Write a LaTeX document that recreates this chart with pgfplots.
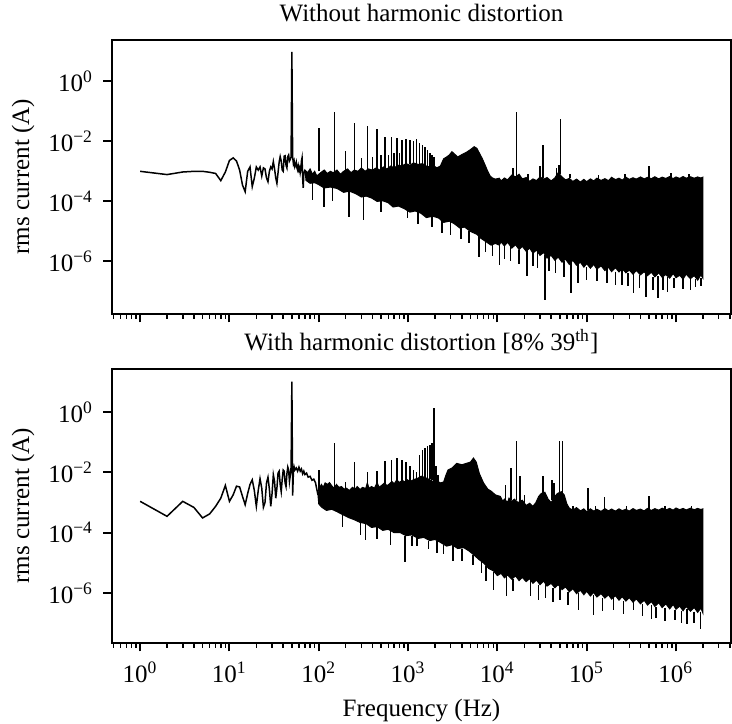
\documentclass[border=0pt]{standalone}
\usepackage{fontspec}
\setmainfont{Liberation Serif}
\usepackage{pgfplots}
\pgfplotsset{compat=1.18}

\pgfplotsset{
  every axis/.append style={
    scale only axis, width=247.6pt, height=109.4pt,
    tick pos=left, tick align=outside,
    major tick length=3.5pt, minor tick length=2pt,
    every major tick/.style={black, line width=0.8pt},
    every minor tick/.style={black, line width=0.6pt},
    axis line style={line width=0.8pt},
    yticklabel style={xshift=-0.5pt},
    ylabel style={at={(axis description cs:-0.134,0.5)}, anchor=base},
    title style={at={(axis description cs:0.5,1)}, anchor=base, yshift=1.5pt},
  },
}

\begin{document}
\begin{tikzpicture}
\path[use as bounding box] (-44.8pt,16pt) rectangle (248pt,-273.6pt);

% ---------------- without harmonic distortion ----------------
\begin{axis}[at={(0,0)}, anchor=north west,
  xmode=log, ymode=log,
  xmin=0.484, xmax=4.13e6, ymin=1.86e-8, ymax=23.4,
  xtick={1,10,100,1000,1e4,1e5,1e6},
  minor xtick={0.5,0.6,0.7,0.8,0.9,2,3,4,5,6,7,8,9,20,30,40,50,60,70,80,90,
    200,300,400,500,600,700,800,900,2000,3000,4000,5000,6000,7000,8000,9000,
    2e4,3e4,4e4,5e4,6e4,7e4,8e4,9e4,2e5,3e5,4e5,5e5,6e5,7e5,8e5,9e5,2e6,3e6,4e6},
  xticklabels={},
  ytick={1e-6,1e-4,1e-2,1},
  yticklabels={10\textsuperscript{\textminus6},10\textsuperscript{\textminus4},
    10\textsuperscript{\textminus2},10\textsuperscript{0}},
  yminorticks=false,
  unbounded coords=jump,
  ylabel={rms current (A)},
  title={Without harmonic distortion}]

% low-frequency part
\addplot[black, line width=0.6pt] coordinates {
(1,1.0e-3)(2,7.8e-4)(3,9.5e-4)(4,1.0e-3)(5,1.0e-3)(6,9.3e-4)(7,8.5e-4)(8,4.9e-4)
(9,9.5e-4)(10,2.3e-3)(11,2.8e-3)(12,2.2e-3)(13,1.1e-3)(14,3.5e-4)(15,2.1e-4)(16,1.0e-3)
(17,1.4e-3)(18,3.1e-4)(19,6.0e-4)(20,1.4e-3)(21,1.1e-3)(22,1.4e-3)(23,7.0e-4)(24,1.3e-3)
(25,1.2e-3)(26,6.0e-4)(27,4.5e-4)(28,1.0e-3)(29,1.4e-3)(30,1.2e-3)(31,2.1e-3)(32,1.2e-3)
(33,6.0e-4)(34,4.0e-4)(35,9.0e-4)(36,2.0e-3)(37,3.1e-3)(38,2.2e-3)(39,1.1e-3)(40,1.0e-3)
(41,3.2e-3)(42,3.3e-3)(43,1.6e-3)(44,1.3e-3)(45,3.1e-3)(46,3.5e-3)(47,2.2e-3)(48,2.5e-3)
(49,3.0e-3)(50,9.4)(51,3.0e-3)(52,1.8e-3)(53,2.2e-3)(54,1.4e-3)(55,1.6e-3)(56,2.0e-3)
(57,1.3e-3)(58,1.1e-3)(59,1.5e-3)(60,1.1e-3)(61,1.3e-3)(62,9.0e-4)(63,1.2e-3)(64,2.2e-3)
(65,2.8e-3)(66,6.0e-4)(67,2.8e-4)(68,8.0e-4)(69,1.0e-3)(70,1.1e-3)
};

% dense band: upper edge left to right, lower edge right to left
\addplot[black, fill=black, line width=0.4pt] coordinates {
(70,1.1e-3)(75,9e-4)(80,1.2e-3)(85,8e-4)(90,1.0e-3)(95,7e-4)(105,9e-4)(115,1.1e-3)
(125,8.5e-4)(135,1.0e-3)(145,9e-4)(160,1.1e-3)(175,8e-4)(190,1.0e-3)(210,1.2e-3)
(230,9e-4)(250,1.1e-3)(275,1.0e-3)(300,1.3e-3)(330,1.0e-3)(360,1.2e-3)(400,1.1e-3)
(440,1.3e-3)(480,1.1e-3)(530,1.4e-3)(580,1.2e-3)(640,1.5e-3)(700,1.3e-3)(770,1.6e-3)
(850,1.5e-3)(950,1.8e-3)(1050,1.6e-3)(1150,1.9e-3)(1300,1.7e-3)(1450,1.8e-3)
(1600,1.5e-3)(1750,1.4e-3)(1900,1.6e-3)(2100,1.3e-3)(2300,1.5e-3)(2500,2.6e-3)
(2700,3.0e-3)(2900,3.5e-3)(3100,4.5e-3)(3300,3.8e-3)(3600,3.0e-3)(4000,3.6e-3)
(4500,4.3e-3)(5000,5.3e-3)(5500,6.6e-3)(5900,5.8e-3)(6300,4.0e-3)(6800,2.6e-3)
(7300,1.6e-3)(7800,1.0e-3)(8300,7e-4)(8800,6e-4)(9500,5.5e-4)
(1.05e4,5.9e-4)(1.1e4,4.8e-4)(1.2e4,6.0e-4)(1.3e4,5.2e-4)(1.45e4,7.5e-4)(1.6e4,6.5e-4)
(1.75e4,8.0e-4)(1.9e4,5.6e-4)(2.1e4,6.2e-4)(2.3e4,4.6e-4)(2.5e4,5.6e-4)(2.75e4,4.9e-4)
(3.0e4,6.5e-4)(3.3e4,5.5e-4)(3.6e4,6.2e-4)(4.0e4,4.8e-4)(4.4e4,6.0e-4)(4.8e4,9.0e-4)
(5.3e4,6.5e-4)(5.8e4,5.2e-4)(6.4e4,5.8e-4)(7.0e4,4.6e-4)(7.7e4,5.5e-4)(8.5e4,4.4e-4)
(9.3e4,5.4e-4)(1.0e5,4.5e-4)(1.1e5,5.6e-4)(1.2e5,4.8e-4)(1.3e5,5.9e-4)(1.45e5,5.0e-4)
(1.6e5,5.7e-4)(1.75e5,4.9e-4)(1.9e5,6.3e-4)(2.1e5,5.3e-4)(2.3e5,5.9e-4)(2.5e5,5.1e-4)
(2.75e5,6.4e-4)(3.0e5,5.4e-4)(3.3e5,6.1e-4)(3.6e5,5.5e-4)(4.0e5,6.5e-4)(4.4e5,5.6e-4)
(4.8e5,6.3e-4)(5.3e5,5.7e-4)(5.8e5,6.6e-4)(6.4e5,5.6e-4)(7.0e5,6.4e-4)(7.7e5,5.8e-4)
(8.5e5,6.7e-4)(9.3e5,5.7e-4)(1.0e6,6.5e-4)(1.1e6,5.8e-4)(1.2e6,6.7e-4)(1.3e6,5.9e-4)
(1.45e6,6.6e-4)(1.6e6,5.9e-4)(1.75e6,6.5e-4)(1.9e6,6.0e-4)(2.0e6,6.4e-4)
(2.0e6,2.8e-7)(1.9e6,3.6e-7)(1.75e6,2.4e-7)(1.6e6,3.4e-7)(1.45e6,2.7e-7)(1.3e6,3.8e-7)
(1.2e6,2.6e-7)(1.1e6,3.5e-7)(1.0e6,2.9e-7)(9.3e5,4.0e-7)(8.5e5,2.8e-7)(7.7e5,3.7e-7)
(7.0e5,3.0e-7)(6.4e5,4.2e-7)(5.8e5,3.1e-7)(5.3e5,4.4e-7)(4.8e5,3.4e-7)(4.4e5,4.6e-7)
(4.0e5,3.6e-7)(3.6e5,5.0e-7)(3.3e5,3.8e-7)(3.0e5,5.2e-7)(2.75e5,4.2e-7)(2.5e5,5.8e-7)
(2.3e5,4.5e-7)(2.1e5,6.2e-7)(1.9e5,4.6e-7)(1.75e5,6.5e-7)(1.6e5,5.0e-7)(1.45e5,7.2e-7)
(1.3e5,5.6e-7)(1.2e5,8.0e-7)(1.1e5,6.0e-7)(1.0e5,8.5e-7)(9.3e4,6.5e-7)(8.5e4,9.5e-7)
(7.7e4,7.5e-7)(7.0e4,1.1e-6)(6.4e4,8.0e-7)(5.8e4,1.2e-6)(5.3e4,9.5e-7)(4.8e4,1.4e-6)
(4.4e4,1.1e-6)(4.0e4,1.6e-6)(3.6e4,1.3e-6)(3.3e4,2.0e-6)(3.0e4,1.6e-6)(2.75e4,2.4e-6)
(2.5e4,1.9e-6)(2.3e4,2.8e-6)(2.1e4,2.2e-6)(1.9e4,3.2e-6)(1.75e4,2.5e-6)(1.6e4,3.6e-6)
(1.45e4,2.8e-6)(1.3e4,4.4e-6)(1.2e4,3.3e-6)(1.1e4,4.5e-6)(1.05e4,3.5e-6)
(9.5e3,4e-6)(8.5e3,3.5e-6)(7.5e3,4.5e-6)(6.5e3,6e-6)(5.9e3,8e-6)
(5e3,1.0e-5)(4.3e3,1.4e-5)(3.8e3,1.3e-5)(3.3e3,1.8e-5)(2.9e3,2.2e-5)(2.5e3,2.0e-5)
(2.2e3,2.8e-5)(1.9e3,3.2e-5)(1.6e3,2.9e-5)(1.4e3,4e-5)(1.2e3,4.8e-5)(1.05e3,4.4e-5)
(900,5.8e-5)(780,7e-5)(680,6.5e-5)(600,9e-5)(520,1.05e-4)(450,1.0e-4)(390,1.3e-4)
(340,1.5e-4)(300,1.4e-4)(260,1.8e-4)(220,2.2e-4)(190,2.0e-4)(160,2.7e-4)(135,3.0e-4)
(115,2.8e-4)(100,3.6e-4)(90,4.2e-4)(80,4.0e-4)(72,5e-4)
} -- cycle;

% harmonic spikes and deep notches
\addplot[black, line width=0.6pt] coordinates {
(100,1.0e-3)(100,2.8e-2)(100,nan) (150,9e-4)(150,9.3e-2)(150,nan)
(200,1.1e-3)(200,4.9e-3)(200,nan) (250,1.1e-3)(250,4.1e-2)(250,nan)
(300,1.2e-3)(300,2.8e-3)(300,nan) (350,1.1e-3)(350,3.2e-2)(350,nan)
(400,1.1e-3)(400,3.0e-3)(400,nan) (450,1.2e-3)(450,2.5e-2)(450,nan)
(500,1.1e-3)(500,3.5e-3)(500,nan) (550,1.3e-3)(550,1.4e-2)(550,nan)
(600,1.3e-3)(600,3.5e-3)(600,nan) (650,1.4e-3)(650,1.4e-2)(650,nan)
(700,1.4e-3)(700,4e-3)(700,nan) (750,1.5e-3)(750,1.3e-2)(750,nan)
(800,1.5e-3)(800,4e-3)(800,nan) (850,1.5e-3)(850,1.1e-2)(850,nan)
(950,1.7e-3)(950,1.2e-2)(950,nan) (1050,1.7e-3)(1050,1.1e-2)(1050,nan)
(1150,1.8e-3)(1150,1.0e-2)(1150,nan) (1250,1.7e-3)(1250,1.2e-2)(1250,nan)
(1350,1.7e-3)(1350,8.9e-3)(1350,nan) (1450,1.8e-3)(1450,7.4e-3)(1450,nan)
(1550,1.6e-3)(1550,6.6e-3)(1550,nan) (1650,1.5e-3)(1650,5.1e-3)(1650,nan)
(1750,1.4e-3)(1750,4.0e-3)(1750,nan) (1850,1.5e-3)(1850,3.5e-3)(1850,nan)
(1950,1.5e-3)(1950,3.1e-3)(1950,nan)
(1.5e4,7e-4)(1.5e4,1.3e-3)(1.5e4,nan) (1.63e4,7e-4)(1.63e4,9.5e-2)(1.63e4,nan)
(2.2e4,5.2e-4)(2.2e4,8e-4)(2.2e4,nan)
(3.0e4,6.5e-4)(3.0e4,1.5e-3)(3.0e4,nan) (3.24e4,6e-4)(3.24e4,7.4e-3)(3.24e4,nan)
(4.6e4,6e-4)(4.6e4,1.3e-3)(4.6e4,nan) (4.9e4,8e-4)(4.9e4,1.6e-3)(4.9e4,nan)
(5.1e4,8e-4)(5.1e4,5.7e-2)(5.1e4,nan) (6.5e4,5.8e-4)(6.5e4,8e-4)(6.5e4,nan)
(1.35e5,5.5e-4)(1.35e5,7.5e-4)(1.35e5,nan) (2.7e5,6e-4)(2.7e5,8e-4)(2.7e5,nan)
(5e5,6e-4)(5e5,1.5e-3)(5e5,nan) (8.8e5,6e-4)(8.8e5,8.5e-4)(8.8e5,nan)
(1.4e6,6.2e-4)(1.4e6,8e-4)(1.4e6,nan)
(85,4.2e-4)(85,1.1e-4)(85,nan) (114,2.8e-4)(114,6.6e-5)(114,nan)
(143,3e-4)(143,1e-4)(143,nan) (217,2.2e-4)(217,3.1e-5)(217,nan)
(315,1.4e-4)(315,2.4e-5)(315,nan) (500,1.0e-4)(500,4.5e-5)(500,nan)
(980,5.8e-5)(980,2.8e-5)(980,nan) (1300,4.5e-5)(1300,1.8e-5)(1300,nan)
(1850,3.2e-5)(1850,1.4e-5)(1850,nan) (2400,2.2e-5)(2400,9e-6)(2400,nan)
(3000,2.2e-5)(3000,7.6e-6)(3000,nan) (3900,1.3e-5)(3900,5.4e-6)(3900,nan)
(4800,1.0e-5)(4800,4e-6)(4800,nan)
(6200,8e-6)(6200,1.45e-6)(6200,nan) (7400,4.5e-6)(7400,2e-6)(7400,nan)
(8800,3.5e-6)(8800,1.5e-6)(8800,nan)
(1.05e4,4e-6)(1.05e4,7.7e-7)(1.05e4,nan) (1.2e4,3.3e-6)(1.2e4,1.2e-6)(1.2e4,nan)
(1.4e4,3.6e-6)(1.4e4,1e-6)(1.4e4,nan) (1.75e4,2.5e-6)(1.75e4,8e-7)(1.75e4,nan)
(2.14e4,3e-6)(2.14e4,3.2e-7)(2.14e4,nan) (2.5e4,1.9e-6)(2.5e4,7e-7)(2.5e4,nan)
(2.8e4,2e-6)(2.8e4,6e-7)(2.8e4,nan)
(3.4e4,1.7e-6)(3.4e4,5.3e-8)(3.4e4,nan) (3.8e4,1.4e-6)(3.8e4,5e-7)(3.8e4,nan)
(4.5e4,1.4e-6)(4.5e4,4e-7)(4.5e4,nan) (5.6e4,1.0e-6)(5.6e4,3e-7)(5.6e4,nan)
(6.7e4,1e-6)(6.7e4,8.9e-8)(6.7e4,nan) (8e4,8e-7)(8e4,2e-7)(8e4,nan)
(1.0e5,6.5e-7)(1.0e5,2.5e-7)(1.0e5,nan) (1.3e5,5.6e-7)(1.3e5,2.2e-7)(1.3e5,nan)
(1.68e5,6.5e-7)(1.68e5,1.9e-7)(1.68e5,nan) (2.1e5,4.6e-7)(2.1e5,1.6e-7)(2.1e5,nan)
(2.5e5,5.5e-7)(2.5e5,1.7e-7)(2.5e5,nan) (2.9e5,4.2e-7)(2.9e5,1.5e-7)(2.9e5,nan)
(3.34e5,4.8e-7)(3.34e5,8.9e-8)(3.34e5,nan) (3.9e5,3.6e-7)(3.9e5,1.3e-7)(3.9e5,nan)
(4.6e5,4e-7)(4.6e5,6.8e-8)(4.6e5,nan) (5.5e5,3.1e-7)(5.5e5,1.1e-7)(5.5e5,nan)
(6.3e5,3.2e-7)(6.3e5,6e-8)(6.3e5,nan) (7.2e5,3e-7)(7.2e5,1.1e-7)(7.2e5,nan)
(8e5,3e-7)(8e5,1e-7)(8e5,nan) (9.5e5,2.9e-7)(9.5e5,1.3e-7)(9.5e5,nan)
(1.2e6,2.9e-7)(1.2e6,1.2e-7)(1.2e6,nan) (1.45e6,2.7e-7)(1.45e6,1.1e-7)(1.45e6,nan)
(1.65e6,2.6e-7)(1.65e6,1.4e-7)(1.65e6,nan) (1.9e6,2.8e-7)(1.9e6,1.5e-7)
};
\end{axis}

% ---------------- with harmonic distortion ----------------
\begin{axis}[at={(0,-131.6pt)}, anchor=north west,
  xmode=log, ymode=log,
  xmin=0.484, xmax=4.13e6, ymin=2.29e-8, ymax=26.9,
  xtick={1,10,100,1000,1e4,1e5,1e6},
  minor xtick={0.5,0.6,0.7,0.8,0.9,2,3,4,5,6,7,8,9,20,30,40,50,60,70,80,90,
    200,300,400,500,600,700,800,900,2000,3000,4000,5000,6000,7000,8000,9000,
    2e4,3e4,4e4,5e4,6e4,7e4,8e4,9e4,2e5,3e5,4e5,5e5,6e5,7e5,8e5,9e5,2e6,3e6,4e6},
  xticklabels={10\textsuperscript{0},10\textsuperscript{1},10\textsuperscript{2},
    10\textsuperscript{3},10\textsuperscript{4},10\textsuperscript{5},10\textsuperscript{6}},
  xticklabel style={anchor=base, yshift=-12.5pt},
  ytick={1e-6,1e-4,1e-2,1},
  yticklabels={10\textsuperscript{\textminus6},10\textsuperscript{\textminus4},
    10\textsuperscript{\textminus2},10\textsuperscript{0}},
  yminorticks=false,
  unbounded coords=jump,
  ylabel={rms current (A)},
  xlabel={Frequency (Hz)},
  xlabel style={at={(axis description cs:0.5,-0.2697)}, anchor=base},
  title={With harmonic distortion [8\% 39\textsuperscript{th}]}]

\addplot[black, line width=0.6pt] coordinates {
(1,1.1e-3)(2,3.5e-4)(3,1.1e-3)(4,6.9e-4)(5,3.1e-4)(6,4.2e-4)(7,7.5e-4)(8,1.4e-3)
(9,3.7e-3)(10,1.1e-3)(11,1.8e-3)(12,3.5e-3)(13,3.3e-3)(14,1.6e-3)(15,8.5e-4)(16,2.0e-3)
(17,4.0e-3)(18,5.7e-3)(19,2.5e-3)(20,7.5e-4)(21,2.5e-3)(22,6.2e-3)(23,3.0e-3)(24,7.0e-4)
(25,1.0e-3)(26,4.5e-3)(27,6.9e-3)(28,2.8e-3)(29,7.5e-4)(30,2.0e-3)(31,8.4e-3)(32,5.0e-3)
(33,1.4e-3)(34,3.0e-3)(35,9.5e-3)(36,1.1e-2)(37,4.0e-3)(38,2.3e-3)(39,6.0e-3)(40,1.2e-2)
(41,1.1e-2)(42,4.5e-3)(43,3.4e-3)(44,9.0e-3)(45,1.5e-2)(46,1.2e-2)(47,5.0e-3)(48,8.0e-3)
(49,1.5e-2)(50,10.3)(51,1.7e-3)(52,1.0e-2)(53,1.5e-2)(54,1.2e-2)(56,1.4e-2)(58,1.1e-2)
(60,1.5e-2)(62,1.1e-2)(64,1.3e-2)(66,9.0e-3)(68,1.1e-2)(70,8.5e-3)(73,9.5e-3)(76,7.0e-3)
(80,7.4e-3)(84,5.5e-3)(88,6.0e-3)(92,4.5e-3)(95,2.8e-3)(98,1.8e-3)
};

\addplot[black, fill=black, line width=0.4pt] coordinates {
(98,1.8e-3)(102,3.0e-3)(107,4.0e-3)(112,3.2e-3)(118,4.5e-3)(125,4.0e-3)(132,4.6e-3)
(140,3.6e-3)(148,3.0e-3)(158,4.0e-3)(168,3.2e-3)(180,3.4e-3)(192,2.8e-3)(205,3.0e-3)
(220,2.5e-3)(238,3.2e-3)(255,2.8e-3)(270,3.4e-3)(290,2.7e-3)(310,3.2e-3)(335,2.9e-3)
(350,4.5e-3)(365,3.0e-3)(390,3.4e-3)(420,3.0e-3)(450,4.6e-3)(475,3.2e-3)(510,3.8e-3)
(545,4.5e-3)(580,3.6e-3)(620,4.2e-3)(660,5.0e-3)(700,4.2e-3)(750,5.7e-3)(800,4.6e-3)
(860,5.5e-3)(920,4.8e-3)(980,5.7e-3)(1050,5.0e-3)(1120,5.5e-3)(1200,6.0e-3)
(1300,6.5e-3)(1400,7.5e-3)(1500,7.0e-3)(1600,6.5e-3)(1700,6.0e-3)(1800,5.5e-3)
(1900,5.0e-3)(2100,5.2e-3)(2300,4.5e-3)(2500,4.8e-3)(2650,8e-3)(2800,1.2e-2)
(3100,1.4e-2)(3500,2.0e-2)(4000,1.8e-2)(4500,2.0e-2)(5000,2.2e-2)(5400,3.0e-2)
(5800,2.2e-2)(6300,9.0e-3)(7000,4.5e-3)(7800,2.8e-3)(8500,2.4e-3)(9500,1.8e-3)
(1.08e4,1.6e-3)(1.15e4,1.1e-3)(1.2e4,1.3e-3)(1.3e4,1.0e-3)(1.35e4,1.4e-3)(1.45e4,1.1e-3)
(1.55e4,1.3e-3)(1.7e4,1.0e-3)(1.9e4,1.2e-3)(2.1e4,8.0e-4)(2.3e4,9.5e-4)(2.5e4,7.5e-4)
(2.7e4,1.0e-3)(2.9e4,1.6e-3)(3.1e4,2.0e-3)(3.4e4,2.2e-3)(3.7e4,1.3e-3)(4.0e4,1.0e-3)
(4.4e4,1.6e-3)(4.7e4,2.0e-3)(5.2e4,2.3e-3)(5.6e4,1.8e-3)(6.0e4,9e-4)(6.4e4,6.5e-4)
(7.0e4,5.6e-4)(7.7e4,6.8e-4)(8.5e4,5.3e-4)(9.3e4,6.2e-4)(1.0e5,5.0e-4)(1.1e5,6.2e-4)
(1.2e5,5.2e-4)(1.3e5,6.0e-4)(1.45e5,5.1e-4)(1.6e5,6.3e-4)(1.75e5,5.3e-4)(1.9e5,6.1e-4)
(2.1e5,5.2e-4)(2.3e5,6.2e-4)(2.5e5,5.4e-4)(2.75e5,6.0e-4)(3.0e5,5.2e-4)(3.3e5,6.3e-4)
(3.6e5,5.5e-4)(4.0e5,6.1e-4)(4.4e5,5.3e-4)(4.8e5,6.4e-4)(5.3e5,5.5e-4)(5.8e5,6.3e-4)
(6.4e5,5.6e-4)(7.0e5,6.5e-4)(7.7e5,5.7e-4)(8.5e5,6.4e-4)(9.3e5,5.6e-4)(1.0e6,6.6e-4)
(1.1e6,5.8e-4)(1.2e6,6.4e-4)(1.3e6,5.7e-4)(1.45e6,6.5e-4)(1.6e6,5.8e-4)(1.75e6,6.4e-4)
(1.9e6,5.9e-4)(2.0e6,6.2e-4)
(2.0e6,2.2e-7)(1.9e6,3.2e-7)(1.75e6,2.3e-7)(1.6e6,3.3e-7)(1.45e6,2.5e-7)(1.3e6,3.6e-7)
(1.2e6,2.6e-7)(1.1e6,3.7e-7)(1.0e6,2.9e-7)(9.3e5,4.2e-7)(8.5e5,3.0e-7)(7.7e5,4.4e-7)
(7.0e5,3.3e-7)(6.4e5,4.8e-7)(5.8e5,3.6e-7)(5.3e5,5.2e-7)(4.8e5,4.0e-7)(4.4e5,5.8e-7)
(4.0e5,4.4e-7)(3.6e5,6.4e-7)(3.3e5,5.0e-7)(3.0e5,7.0e-7)(2.75e5,5.4e-7)(2.5e5,7.6e-7)
(2.3e5,5.8e-7)(2.1e5,8.2e-7)(1.9e5,6.3e-7)(1.75e5,8.8e-7)(1.6e5,6.8e-7)(1.45e5,9.6e-7)
(1.3e5,7.4e-7)(1.2e5,1.05e-6)(1.1e5,8.0e-7)(1.0e5,1.15e-6)(9.3e4,8.8e-7)(8.5e4,1.25e-6)
(7.7e4,9.6e-7)(7.0e4,1.4e-6)(6.4e4,1.1e-6)(5.8e4,1.6e-6)(5.3e4,1.3e-6)(4.8e4,1.9e-6)
(4.4e4,1.5e-6)(4.0e4,2.1e-6)(3.6e4,1.7e-6)(3.3e4,2.5e-6)(3.0e4,1.9e-6)(2.75e4,2.7e-6)
(2.5e4,2.1e-6)(2.3e4,3.0e-6)(2.1e4,2.4e-6)(1.9e4,3.3e-6)(1.75e4,2.6e-6)(1.6e4,3.7e-6)
(1.45e4,2.9e-6)(1.3e4,4.0e-6)(1.2e4,3.2e-6)(1.1e4,4.5e-6)(1.0e4,3.8e-6)
(9.0e3,5.5e-6)(8.0e3,6.5e-6)(7.0e3,1.0e-5)
(6.2e3,1.3e-5)(5.5e3,1.8e-5)(4.8e3,2.5e-5)(4.2e3,3.2e-5)(3.6e3,3.0e-5)(3.1e3,4.0e-5)
(2.7e3,3.6e-5)(2.3e3,4.8e-5)(2.0e3,6.0e-5)(1.75e3,5.5e-5)(1.5e3,7.0e-5)(1.3e3,6.5e-5)
(1.1e3,8.5e-5)(950,8.0e-5)(820,1.0e-4)(700,1.0e-4)(600,1.3e-4)(520,1.2e-4)(450,1.6e-4)
(390,1.5e-4)(340,2.0e-4)(290,2.2e-4)(250,2.7e-4)(215,3.2e-4)(185,4.0e-4)(160,5.0e-4)
(140,6.0e-4)(122,5.5e-4)(108,7.0e-4)(100,9.0e-4)
} -- cycle;

\addplot[black, line width=0.6pt] coordinates {
(100,2.5e-3)(100,1.2e-2)(100,nan) (150,3.0e-3)(150,9.4e-2)(150,nan)
(200,3.0e-3)(200,5.0e-3)(200,nan) (250,2.8e-3)(250,2.3e-2)(250,nan)
(350,3.0e-3)(350,1.0e-2)(350,nan) (450,3.2e-3)(450,1.1e-2)(450,nan)
(550,4.0e-3)(550,2.4e-2)(550,nan) (650,4.5e-3)(650,2.5e-2)(650,nan)
(750,5.0e-3)(750,3.0e-2)(750,nan) (850,5.0e-3)(850,2.6e-2)(850,nan)
(950,5.0e-3)(950,2.3e-2)(950,nan) (1050,5.0e-3)(1050,1.6e-2)(1050,nan)
(1150,5.5e-3)(1150,1.2e-2)(1150,nan) (1250,6e-3)(1250,1.0e-2)(1250,nan)
(1350,6e-3)(1350,3.9e-2)(1350,nan) (1450,6.5e-3)(1450,5.7e-2)(1450,nan)
(1550,6.5e-3)(1550,6.4e-2)(1550,nan) (1650,6e-3)(1650,7.3e-2)(1650,nan)
(1750,6e-3)(1750,8.3e-2)(1750,nan) (1850,5.5e-3)(1850,9.4e-2)(1850,nan)
(1950,5.0e-3)(1950,1.35)(1950,nan) (2050,5e-3)(2050,1.6e-2)(2050,nan)
(2150,5e-3)(2150,8e-3)(2150,nan)
(1.23e4,1.2e-3)(1.23e4,3.9e-3)(1.23e4,nan) (1.42e4,1.2e-3)(1.42e4,1.4e-2)(1.42e4,nan)
(1.63e4,1.2e-3)(1.63e4,0.107)(1.63e4,nan) (1.8e4,1.0e-3)(1.8e4,7.8e-3)(1.8e4,nan)
(2.0e4,9e-4)(2.0e4,1.8e-3)(2.0e4,nan) (3.24e4,2e-3)(3.24e4,7.8e-3)(3.24e4,nan)
(4.1e4,1.2e-3)(4.1e4,5.7e-3)(4.1e4,nan) (4.3e4,1.4e-3)(4.3e4,4.5e-3)(4.3e4,nan)
(4.97e4,2e-3)(4.97e4,0.107)(4.97e4,nan) (5.36e4,2e-3)(5.36e4,0.107)(5.36e4,nan)
(7e4,5.6e-4)(7e4,8e-4)(7e4,nan) (1.03e5,5.5e-4)(1.03e5,3e-3)(1.03e5,nan)
(1.25e5,5.2e-4)(1.25e5,7.5e-4)(1.25e5,nan) (1.58e5,6e-4)(1.58e5,1.5e-3)(1.58e5,nan)
(2.8e5,6e-4)(2.8e5,7.5e-4)(2.8e5,nan) (5e5,6e-4)(5e5,1.6e-3)(5e5,nan)
(7.5e5,5.7e-4)(7.5e5,7.5e-4)(7.5e5,nan) (1.5e6,6e-4)(1.5e6,7.5e-4)(1.5e6,nan)
(185,4e-4)(185,1.6e-4)(185,nan) (294,2.2e-4)(294,8.7e-5)(294,nan)
(335,2.0e-4)(335,5.9e-5)(335,nan) (450,1.6e-4)(450,6e-5)(450,nan)
(637,1.2e-4)(637,4.0e-5)(637,nan)
(921,8e-5)(921,1.1e-5)(921,nan) (1100,8e-5)(1100,3.5e-5)(1100,nan)
(1260,6.5e-5)(1260,3.5e-5)(1260,nan)
(1700,5.5e-5)(1700,2.8e-5)(1700,nan) (2100,5.5e-5)(2100,2.2e-5)(2100,nan)
(2500,4e-5)(2500,1.9e-5)(2500,nan)
(3200,4e-5)(3200,1.2e-5)(3200,nan) (4000,3e-5)(4000,1.2e-5)(4000,nan)
(5300,1.8e-5)(5300,8.8e-6)(5300,nan)
(6600,1.1e-5)(6600,4.7e-6)(6600,nan) (7500,8e-6)(7500,2.5e-6)(7500,nan)
(9100,5e-6)(9100,1.3e-6)(9100,nan)
(1.26e4,3.6e-6)(1.26e4,7.9e-7)(1.26e4,nan) (1.5e4,2.9e-6)(1.5e4,1.2e-6)(1.5e4,nan)
(2.35e4,3.2e-6)(2.35e4,8e-7)(2.35e4,nan) (2.9e4,1.9e-6)(2.9e4,6e-7)(2.9e4,nan)
(3.44e4,2.6e-6)(3.44e4,7e-7)(3.44e4,nan) (4.2e4,1.5e-6)(4.2e4,5e-7)(4.2e4,nan)
(5e4,2e-6)(5e4,6e-7)(5e4,nan) (6.2e4,1.1e-6)(6.2e4,4e-7)(6.2e4,nan)
(8.1e4,1.0e-6)(8.1e4,2.8e-7)(8.1e4,nan) (1.19e5,8.5e-7)(1.19e5,1.9e-7)(1.19e5,nan)
(1.5e5,6.8e-7)(1.5e5,2.5e-7)(1.5e5,nan)
(2e5,7e-7)(2e5,2.8e-7)(2e5,nan) (2.6e5,5.4e-7)(2.6e5,2e-7)(2.6e5,nan)
(3.33e5,5e-7)(3.33e5,2.8e-7)(3.33e5,nan) (4.2e5,4.4e-7)(4.2e5,1.8e-7)(4.2e5,nan)
(5.3e5,4e-7)(5.3e5,1.4e-7)(5.3e5,nan)
(6e5,3.4e-7)(6e5,1.5e-7)(6e5,nan) (7.5e5,3.3e-7)(7.5e5,1.2e-7)(7.5e5,nan)
(9.7e5,2.8e-7)(9.7e5,1.3e-7)(9.7e5,nan) (1.15e6,2.6e-7)(1.15e6,1e-7)(1.15e6,nan)
(1.32e6,3e-7)(1.32e6,9.1e-8)(1.32e6,nan) (1.6e6,2.4e-7)(1.6e6,1e-7)(1.6e6,nan)
(1.89e6,2.4e-7)(1.89e6,6.2e-8)
};
\end{axis}
\end{tikzpicture}
\end{document}
